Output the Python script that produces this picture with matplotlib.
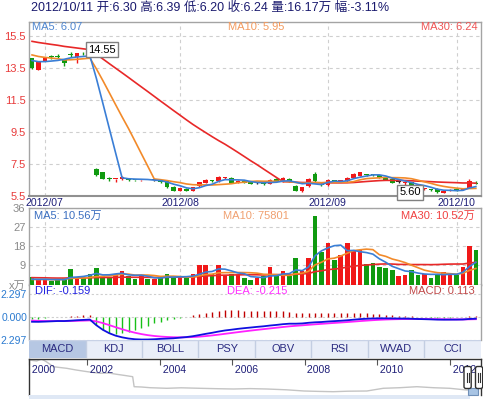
import numpy as np
import pandas as pd
import matplotlib
matplotlib.use('Agg')
import matplotlib.pyplot as plt
from matplotlib.patches import Rectangle, FancyBboxPatch

plt.rcParams['font.family'] = ['Liberation Sans', 'Noto Sans CJK SC', 'DejaVu Sans']

W, H = 483, 399

# ---------------- data ----------------
header = '2012/10/11 开:6.30 高:6.39 低:6.20 收:6.24 量:16.17万 幅:-3.11%'

# closes before the visible window (needed for MA30 / MACD warm-up)
pre_close = [16.0, 15.9, 15.95, 15.85, 15.9, 15.8, 15.95, 15.9, 15.85,
             15.4, 15.3, 15.35, 15.2, 15.3, 15.25, 15.35, 15.3, 15.25, 15.4, 15.3,
             14.8, 14.7, 14.6, 14.6, 14.55, 14.2, 14.1, 14.0, 14.0]
pre_volume = [3.6, 3.2, 4.1, 3.5, 3.0, 3.9, 3.4, 4.2, 3.3, 3.7, 3.1, 4.0, 3.6, 3.2,
              3.8, 4.4, 3.5, 3.9, 3.6, 4.0, 2.6, 2.1, 2.4, 2.3, 2.1, 2.5, 2.0, 2.3, 2.2]

opens = [14.09, 13.38, 13.94, 14.20, 14.22, 13.98, 14.32, 14.15, 14.36, 14.40,
         7.17, 6.98, 6.56, 6.53, 6.52, 6.52, 6.47, 6.47, 6.49, 6.46,
         6.48, 6.40, 6.06, 5.81, 5.94, 5.81, 6.08, 6.31, 6.42, 6.40,
         6.58, 6.61, 6.29, 6.42, 6.40, 6.31, 6.28, 6.23, 6.54, 6.40,
         6.56, 6.13, 5.77, 6.09, 6.86, 6.22, 6.15, 6.42, 6.43, 6.40,
         6.61, 6.73, 6.79, 6.83, 6.77, 6.65, 6.56, 6.36, 6.28, 6.34,
         6.15, 5.93, 5.90, 5.92, 5.68, 5.80, 5.92, 5.86, 6.00, 6.30]
highs = [14.12, 13.88, 14.15, 14.28, 14.35, 14.00, 14.50, 14.45, 14.46, 14.55,
         7.20, 7.00, 6.67, 6.54, 6.70, 6.62, 6.50, 6.50, 6.51, 6.49,
         6.50, 6.42, 6.08, 6.00, 5.97, 6.06, 6.38, 6.56, 6.48, 6.72,
         6.66, 6.65, 6.47, 6.45, 6.43, 6.36, 6.32, 6.55, 6.58, 6.66,
         6.60, 6.15, 6.04, 6.58, 6.95, 6.30, 6.55, 6.48, 6.50, 6.65,
         6.90, 7.00, 6.84, 6.88, 6.80, 6.68, 6.60, 6.40, 6.33, 6.36,
         6.18, 5.99, 5.93, 5.95, 5.84, 5.90, 5.95, 5.98, 6.52, 6.39]
lows = [13.40, 13.33, 13.90, 14.05, 14.08, 13.61, 14.15, 13.78, 14.28, 14.30,
        6.75, 6.55, 6.40, 6.35, 6.45, 6.42, 6.42, 6.44, 6.45, 6.42,
        6.30, 6.00, 5.78, 5.78, 5.78, 5.80, 6.05, 6.28, 6.35, 6.38,
        6.52, 6.28, 6.27, 6.28, 6.22, 6.26, 6.18, 6.20, 6.38, 6.38,
        6.38, 5.78, 5.72, 6.05, 6.36, 6.10, 6.12, 6.33, 6.38, 6.38,
        6.58, 6.70, 6.70, 6.76, 6.58, 6.48, 6.28, 6.30, 5.60, 6.10,
        5.90, 5.88, 5.82, 5.68, 5.65, 5.78, 5.82, 5.84, 5.98, 6.20]
closes = [13.46, 13.84, 14.12, 14.17, 14.20, 13.81, 14.29, 14.40, 14.33, 14.38,
          6.81, 6.56, 6.54, 6.54, 6.65, 6.50, 6.46, 6.48, 6.47, 6.46,
          6.34, 6.02, 5.81, 5.98, 5.81, 6.04, 6.35, 6.48, 6.40, 6.69,
          6.60, 6.31, 6.44, 6.31, 6.25, 6.31, 6.24, 6.50, 6.40, 6.61,
          6.40, 5.81, 6.02, 6.54, 6.40, 6.19, 6.50, 6.40, 6.45, 6.61,
          6.86, 6.96, 6.77, 6.81, 6.61, 6.50, 6.31, 6.36, 6.30, 6.13,
          5.92, 5.95, 5.84, 5.70, 5.80, 5.88, 5.85, 5.94, 6.44, 6.24]
volumes = [3.5, 2.2, 2.2, 1.6, 2.2, 3.3, 7.3, 3.3, 3.0, 4.9,
           7.7, 3.8, 3.5, 5.1, 6.5, 3.9, 2.7, 3.8, 2.7, 2.7,
           3.5, 4.9, 3.6, 3.5, 3.0, 4.9, 9.0, 9.0, 4.9, 9.0,
           4.3, 4.9, 4.3, 3.0, 2.2, 3.0, 3.8, 8.1, 3.8, 6.2,
           3.8, 12.5, 6.5, 12.5, 32.5, 15.5, 19.5, 11.7, 13.8, 19.5,
           16.0, 16.5, 9.6, 10.1, 8.5, 7.7, 7.0, 4.1, 4.6, 7.0,
           4.3, 4.8, 3.2, 4.8, 6.0, 5.4, 4.6, 8.2, 18.3, 16.17]

month_idx = [2, 23, 46, 66]
month_labels = ['2012/07', '2012/08', '2012/09', '2012/10']
price_ticks = [5.5, 7.5, 9.5, 11.5, 13.5, 15.5]
vol_ticks = [0, 9, 18, 27, 36]
vol_tick_labels = ['x万', '9', '18', '27', '36']
macd_ticks = [-2.297, 0.0, 2.297]
macd_tick_labels = ['2.297', '0.000', '2.297']   # as visible in the reference

price_ma_labels = ['MA5: 6.07', 'MA10: 5.95', 'MA30: 6.24']
vol_ma_labels = ['MA5: 10.56万', 'MA10: 75801', 'MA30: 10.52万']
macd_labels = ['DIF: -0.159', 'DEA: -0.215', 'MACD: 0.113']

tabs = ['MACD', 'KDJ', 'BOLL', 'PSY', 'OBV', 'RSI', 'WVAD', 'CCI']

nav_years = [2000.40, 2000.61, 2000.75, 2000.89, 2001.07, 2001.25, 2001.44, 2001.7, 2002.01,
             2002.36, 2002.6, 2002.82, 2003.05, 2003.26, 2003.30, 2003.5, 2003.74, 2004.2,
             2004.6, 2005.12, 2005.6, 2006.04, 2006.5, 2006.96, 2007.5, 2007.99, 2008.4,
             2008.79, 2009.2, 2009.72, 2010.17, 2010.63, 2011.1, 2011.55, 2012.01, 2012.47, 2012.78]
nav_close = [35, 34, 36, 33, 28.3, 27.5, 26.7, 25, 23.3,
             21.7, 22, 20.7, 19.5, 18.3, 8.3, 8.0, 7.3, 6.7,
             7.2, 6.7, 6.3, 6.0, 6.4, 6.0, 5.2, 4.0, 3.6,
             3.3, 3.8, 4.0, 6.7, 7.3, 8.3, 7.3, 6.7, 5.0, 5.5]
nav_tick_years = [2000, 2002, 2004, 2006, 2008, 2010, 2012]

# ---------------- derived indicators ----------------
n_pre = len(pre_close)
cs = pd.Series(pre_close + closes)
vs = pd.Series(pre_volume + volumes)
ma_p = {n: cs.rolling(n).mean().to_numpy()[n_pre:] for n in (5, 10, 30)}
ma_v = {n: vs.rolling(n).mean().to_numpy()[n_pre:] for n in (5, 10, 30)}
ema12 = cs.ewm(span=12, adjust=False).mean()
ema26 = cs.ewm(span=26, adjust=False).mean()
dif_s = ema12 - ema26
dea_s = dif_s.ewm(span=9, adjust=False).mean()
dif = dif_s.to_numpy()[n_pre:]
dea = dea_s.to_numpy()[n_pre:]
macd = 2 * (dif - dea)

o = np.array(opens); c = np.array(closes); hi = np.array(highs); lo = np.array(lows)
x = np.arange(len(c))

RED = '#f01818'
GREEN = '#109a10'
cols = [RED if cc > oo else (GREEN if cc < oo else '#202020') for oo, cc in zip(o, c)]
vcols = [RED if cc >= oo else GREEN for oo, cc in zip(o, c)]

C_MA5 = '#3a7ed6'
C_MA10 = '#f28a2a'
C_MA30 = '#e82828'
GRID = '#cfcfcf'
SPINE = '#a4a4a4'
NAVY = '#1e1e78'

# ---------------- figure ----------------
fig = plt.figure(figsize=(W / 100, H / 100), dpi=100)
fig.patch.set_facecolor('white')


def fax(x0, y0, x1, y1):
    return fig.add_axes([x0 / W, 1 - y1 / H, (x1 - x0) / W, (y1 - y0) / H])


def ftext(px, py, s, **kw):
    fig.text(px / W, 1 - py / H, s, **kw)


XL = (-0.47, 69.8)

# ---- price panel ----
ax = fax(29, 22, 481, 196)
ax.set_xlim(*XL)
ax.set_ylim(5.48, 16.36)
ax.vlines(x, lo, hi, colors=cols, lw=1, zorder=3)
ax.bar(x, np.maximum(np.abs(c - o), 0.06), bottom=np.minimum(o, c), width=0.72,
       color=cols, zorder=4, linewidth=0)
ax.plot(x, ma_p[30], color=C_MA30, lw=1.2, zorder=5)
ax.plot(x, ma_p[10], color=C_MA10, lw=1.2, zorder=5)
ax.plot(x, ma_p[5], color=C_MA5, lw=1.2, zorder=5)
ax.set_yticks(price_ticks)
ax.set_yticklabels([f'{t:.1f}' for t in price_ticks])
ax.set_xticks(month_idx)
ax.set_xticklabels(month_labels)
ax.tick_params(axis='y', length=0, pad=2.5, labelcolor='#e83a3a', labelsize=8)
ax.tick_params(axis='x', length=0, pad=1.8, labelcolor=NAVY, labelsize=7.6)
ax.grid(True, color=GRID, lw=0.8, ls=(0, (3, 3)))
for s in ax.spines.values():
    s.set_color(SPINE)
    s.set_linewidth(1)
ax.spines['bottom'].set_color('#909090')
ax.spines['bottom'].set_linewidth(1.5)

imax = int(np.argmax(hi)); imin = int(np.argmin(lo))
bb = dict(boxstyle='square,pad=0.22', fc='white', ec='#808080', lw=1)
ax.annotate(f'{hi[imax]:.2f}', xy=(imax, hi[imax]), xytext=(-1.7, 1.4),
            textcoords='offset pixels', ha='left', va='center', fontsize=8,
            color='black', bbox=bb, zorder=10, annotation_clip=False)
ax.annotate(f'{lo[imin]:.2f}', xy=(imin, lo[imin]), xytext=(-5.9, 1.9),
            textcoords='offset pixels', ha='left', va='center', fontsize=8,
            color='black', bbox=bb, zorder=10, annotation_clip=False)

ftext(32, 27, price_ma_labels[0], color='#4f86cf', fontsize=8, va='center', ha='left')
ftext(228, 27, price_ma_labels[1], color='#f39a5e', fontsize=8, va='center', ha='left')
ftext(478, 27, price_ma_labels[2], color='#ee5555', fontsize=8, va='center', ha='right')

# ---- volume panel ----
av = fax(29, 208.3, 481, 284.5)
av.set_xlim(*XL)
av.set_ylim(0, 36)
av.bar(x, volumes, width=0.72, color=vcols, linewidth=0, zorder=3)
av.plot(x, ma_v[30], color=C_MA30, lw=1.2, zorder=5)
av.plot(x, ma_v[10], color=C_MA10, lw=1.2, zorder=5)
av.plot(x, ma_v[5], color=C_MA5, lw=1.2, zorder=5)
av.set_yticks(vol_ticks)
av.set_yticklabels(vol_tick_labels)
av.set_xticks(month_idx)
av.set_xticklabels([])
av.tick_params(axis='y', length=0, pad=2.5, labelcolor='#8a8a8a', labelsize=8)
av.tick_params(axis='x', length=0)
av.grid(True, color=GRID, lw=0.8, ls=(0, (3, 3)))
for s in av.spines.values():
    s.set_color(SPINE)
    s.set_linewidth(1)
ftext(34, 215.8, vol_ma_labels[0], color='#3a6ec0', fontsize=8, va='center', ha='left')
ftext(223, 215.8, vol_ma_labels[1], color='#f0a070', fontsize=8, va='center', ha='left')
ftext(475, 215.8, vol_ma_labels[2], color='#f04040', fontsize=8, va='center', ha='right')

# ---- MACD panel ----
am = fax(29, 284.5, 481, 340)
am.set_xlim(*XL)
am.set_ylim(-2.34, 3.30)
mcols = ['#c00000' if m >= 0 else '#18c018' for m in macd]
am.vlines(x, 0, macd, colors=mcols, lw=1, zorder=3)
am.plot(x, dea, color='#ff20ff', lw=1.3, zorder=5)
am.plot(x, dif, color='#1010e0', lw=1.3, zorder=6)
am.set_yticks(macd_ticks)
am.set_yticklabels(macd_tick_labels)
am.set_xticks([])
am.tick_params(axis='y', length=0, pad=1.4, labelcolor='#2a7ad0', labelsize=7.5)
am.grid(True, axis='y', color=GRID, lw=0.8, ls=(0, (2, 2)))
for k, s in am.spines.items():
    s.set_color(SPINE)
    s.set_linewidth(1)
am.spines['top'].set_visible(False)
am.spines['bottom'].set_visible(False)
ftext(35, 290.5, macd_labels[0], color='#2020e0', fontsize=8, va='center', ha='left')
ftext(227, 290.5, macd_labels[1], color='#ff30ff', fontsize=8, va='center', ha='left')
ftext(475, 290.5, macd_labels[2], color='#c04848', fontsize=8, va='center', ha='right')

# ---- tab bar ----
at = fax(29, 340, 481, 358)
at.set_xlim(0, len(tabs))
at.set_ylim(0, 1)
at.axis('off')
for i, name in enumerate(tabs):
    at.add_patch(Rectangle((i, 0), 1, 1, fc='#b6c7e3' if i == 0 else '#e9eef8',
                           ec='none'))
    if i > 0:
        at.plot([i, i], [0, 1], color='#c3cee2', lw=1)
    at.text(i + 0.5, 0.5, name, ha='center', va='center', fontsize=7.9, color='#2a2a80')
at.plot([0, len(tabs)], [1, 1], color='#c8d2e6', lw=1)

# ---- navigator ----
an = fax(29, 359, 481, 395)
an.set_xlim(nav_years[0], nav_years[0] + 452 / 36.25)
an.set_ylim(0, 36)
an.plot(nav_years, nav_close, color='#c4c4c4', lw=1)
tick_pos = [nav_years[0]] + nav_tick_years[1:]
an.set_xticks(tick_pos)
an.set_xticklabels([])
an.tick_params(axis='x', direction='in', length=4, color='#555555', top=True, bottom=False)
an.set_yticks([])
for yr, tp in zip(nav_tick_years, tick_pos):
    an.text(tp, 25, f' {yr}', ha='left', va='center', fontsize=7.6, color=NAVY, clip_on=True)
for s in an.spines.values():
    s.set_color('#333333')
    s.set_linewidth(1)
an.spines['bottom'].set_visible(False)

# ---- overlay (UI chrome: scroll handles, strip) ----
ao = fig.add_axes([0, 0, 1, 1], zorder=20)
ao.set_xlim(0, W)
ao.set_ylim(H, 0)
ao.axis('off')
ao.add_patch(Rectangle((29, 395), 441, 4, fc='#dfe8f5', ec='none'))
ao.add_patch(Rectangle((468, 388), 10, 7, fc='#a8c4e4', ec='#7090b8', lw=0.8))
for hx in (464, 475.5):
    ao.add_patch(FancyBboxPatch((hx, 366.5), 7.2, 22, boxstyle='round,pad=0,rounding_size=2',
                                fc='white', ec='#303030', lw=1))
    ao.plot([hx + 2.6, hx + 2.6], [373, 382], color='#303030', lw=0.8)
    ao.plot([hx + 4.6, hx + 4.6], [373, 382], color='#303030', lw=0.8)

ftext(31, 7.5, header, color='#1a1a6e', fontsize=9, va='center', ha='left')

fig.savefig('out.png', dpi=100)
